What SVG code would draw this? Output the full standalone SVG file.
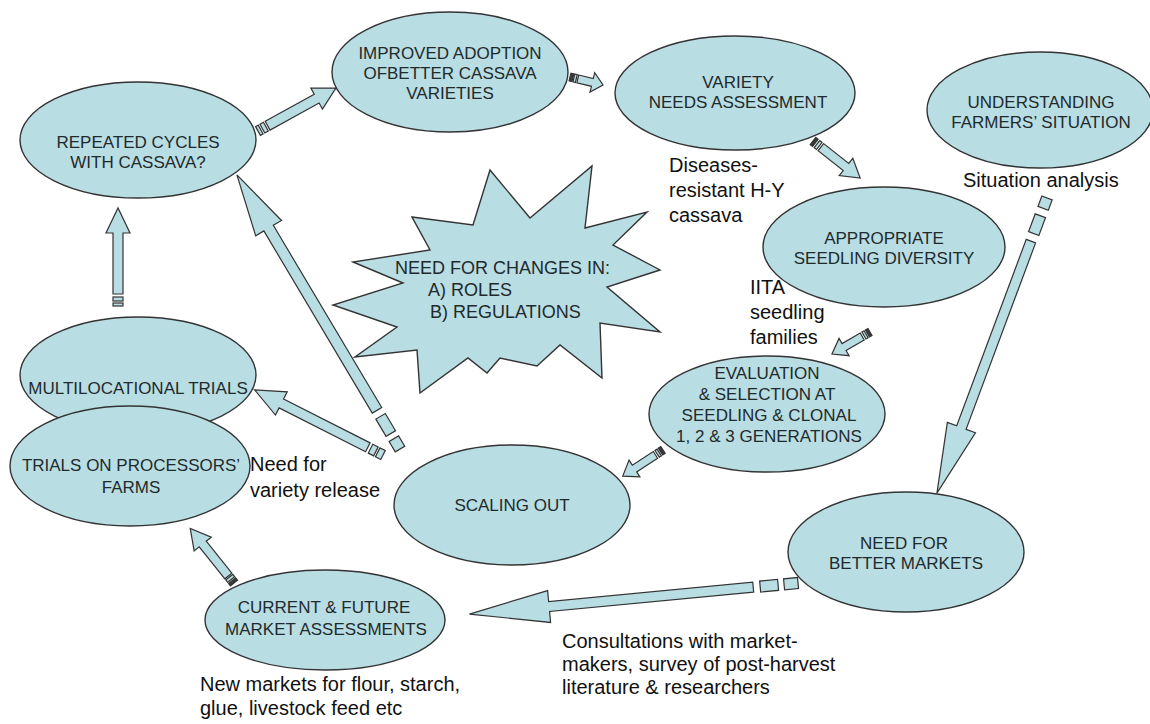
<svg xmlns="http://www.w3.org/2000/svg" width="1150" height="724" viewBox="0 0 1150 724">
  <style>
    .node { fill: #b8dde3; stroke: #333; stroke-width: 1.4; }
    .lbl { font-family: "Liberation Sans", Arial, sans-serif; font-size: 17px; fill: #1f2a2c; text-anchor: middle; }
    .star { font-family: "Liberation Sans", Arial, sans-serif; font-size: 18px; fill: #1f2a2c; }
    .note { font-family: "Liberation Sans", Arial, sans-serif; font-size: 20px; fill: #111; }
    .arrow path, .arrow rect { fill: #b8dde3; stroke: #333; stroke-width: 1.2; stroke-linejoin: miter; }
    .arrow rect.dark { fill: #3a3a3a; }
  </style>
  <rect width="1150" height="724" fill="#ffffff"/>

  <!-- nodes -->
  <g id="repeated-cycles">
    <ellipse class="node" cx="138" cy="140" rx="118" ry="58"/>
    <text class="lbl" x="138" y="148">REPEATED CYCLES</text>
    <text class="lbl" x="138" y="168">WITH CASSAVA?</text>
  </g>
  <g id="improved-adoption">
    <ellipse class="node" cx="450" cy="72" rx="118" ry="60"/>
    <text class="lbl" x="450" y="59">IMPROVED ADOPTION</text>
    <text class="lbl" x="450" y="79">OFBETTER CASSAVA</text>
    <text class="lbl" x="450" y="99">VARIETIES</text>
  </g>
  <g id="variety-needs">
    <ellipse class="node" cx="735" cy="93" rx="120" ry="57"/>
    <text class="lbl" x="738" y="88">VARIETY</text>
    <text class="lbl" x="738" y="108">NEEDS ASSESSMENT</text>
  </g>
  <g id="understanding-farmers">
    <ellipse class="node" cx="1040" cy="110" rx="113" ry="58"/>
    <text class="lbl" x="1041" y="108">UNDERSTANDING</text>
    <text class="lbl" x="1041" y="128">FARMERS’ SITUATION</text>
  </g>
  <g id="seedling-diversity">
    <ellipse class="node" cx="884" cy="247" rx="121" ry="60"/>
    <text class="lbl" x="884" y="244">APPROPRIATE</text>
    <text class="lbl" x="884" y="264">SEEDLING DIVERSITY</text>
  </g>
  <g id="evaluation">
    <ellipse class="node" cx="767" cy="414" rx="118" ry="58"/>
    <text class="lbl" x="767" y="379">EVALUATION</text>
    <text class="lbl" x="767" y="400">&amp; SELECTION AT</text>
    <text class="lbl" x="769" y="421">SEEDLING &amp; CLONAL</text>
    <text class="lbl" x="769" y="442">1, 2 &amp; 3 GENERATIONS</text>
  </g>
  <g id="scaling-out">
    <ellipse class="node" cx="512" cy="505" rx="118" ry="60"/>
    <text class="lbl" x="512" y="511">SCALING OUT</text>
  </g>
  <g id="multilocational">
    <ellipse class="node" cx="138" cy="375" rx="118" ry="58"/>
    <text class="lbl" x="138" y="394">MULTILOCATIONAL TRIALS</text>
  </g>
  <g id="processor-trials">
    <ellipse class="node" cx="130" cy="466" rx="120" ry="60"/>
    <text class="lbl" x="131" y="471">TRIALS ON PROCESSORS’</text>
    <text class="lbl" x="131" y="493">FARMS</text>
  </g>
  <g id="market-assessments">
    <ellipse class="node" cx="325" cy="620" rx="120" ry="50"/>
    <text class="lbl" x="324" y="613">CURRENT &amp; FUTURE</text>
    <text class="lbl" x="326" y="635">MARKET ASSESSMENTS</text>
  </g>
  <g id="better-markets">
    <ellipse class="node" cx="906" cy="552" rx="118" ry="60"/>
    <text class="lbl" x="904" y="549">NEED FOR</text>
    <text class="lbl" x="906" y="569">BETTER MARKETS</text>
  </g>
  <g id="changes-needed">
    <polygon class="node" points="412,217 473,225 490,170 530,218 592,166 585,228 647,212 613,245 660,270 607,287 660,332 600,323 602,378 560,345 537,366 500,358 487,373 468,358 420,393 417,350 355,357 397,327 333,305 403,283 353,262 430,250"/>
    <text class="star" x="395" y="274">NEED FOR CHANGES IN:</text>
    <text class="star" x="428" y="296">A)  ROLES</text>
    <text class="star" x="430" y="318">B) REGULATIONS</text>
  </g>

  <!-- free annotations -->
  <g id="notes">
    <text class="note" x="669" y="172">Diseases-</text>
    <text class="note" x="669" y="197">resistant H-Y</text>
    <text class="note" x="669" y="222">cassava</text>
    <text class="note" x="963" y="187">Situation analysis</text>
    <text class="note" x="750" y="294">IITA</text>
    <text class="note" x="750" y="319">seedling</text>
    <text class="note" x="750" y="344">families</text>
    <text class="note" x="250" y="471">Need for</text>
    <text class="note" x="250" y="497">variety release</text>
    <text class="note" x="562" y="648">Consultations with market-</text>
    <text class="note" x="562" y="671">makers, survey of post-harvest</text>
    <text class="note" x="562" y="694">literature &amp; researchers</text>
    <text class="note" x="200" y="691">New markets for flour, starch,</text>
    <text class="note" x="200" y="715">glue, livestock feed etc</text>
  </g>

  <!-- striped block arrows: local frame, tail at 0, tip at +x -->
  <g id="connectors">
    <g class="arrow" transform="translate(258 131) rotate(-28.9)">
      <rect x="0" y="-5" width="3" height="10"/><rect x="5" y="-5" width="4" height="10"/>
      <path d="M11,-5 H67 V-12 L89,0 L67,12 V5 H11 Z"/>
    </g>
    <g class="arrow" transform="translate(570 77) rotate(13.6)">
      <rect class="dark" x="0" y="-4" width="3" height="8"/><rect x="4" y="-4" width="2.5" height="8"/>
      <path d="M8,-4 H23 V-10 L34,0 L23,10 V4 H8 Z"/>
    </g>
    <g class="arrow" transform="translate(813 141) rotate(38.2)">
      <rect class="dark" x="0" y="-4.5" width="3" height="9"/><rect x="5" y="-4.5" width="3" height="9"/>
      <path d="M10,-4.5 H42 V-11 L60,0 L42,11 V4.5 H10 Z"/>
    </g>
    <g class="arrow" transform="translate(870 332) rotate(149.9)">
      <rect class="dark" x="0" y="-4" width="3" height="8"/><rect x="4.5" y="-4" width="2.5" height="8"/>
      <path d="M9,-4 H30 V-10 L44,0 L30,10 V4 H9 Z"/>
    </g>
    <g class="arrow" transform="translate(663 450) rotate(147)">
      <rect class="dark" x="0" y="-4" width="3" height="8"/><rect x="4.5" y="-4" width="2.5" height="8"/>
      <path d="M9,-4 H34 V-10 L48,0 L34,10 V4 H9 Z"/>
    </g>
    <g class="arrow" transform="translate(1047 198) rotate(110.45)">
      <rect x="0" y="-5.5" width="11" height="11"/><rect x="19" y="-5.5" width="19" height="11"/>
      <path d="M46,-5 H245 V-15 L315,0 L245,15 V5 H46 Z"/>
    </g>
    <g class="arrow" transform="translate(798 583) rotate(174.6)">
      <rect x="0" y="-5.5" width="14" height="11"/><rect x="20" y="-5.5" width="18" height="11"/>
      <path d="M45,-5 H250 V-16 L330,0 L250,16 V5 H45 Z"/>
    </g>
    <g class="arrow" transform="translate(234 583) rotate(-128.7)">
      <rect class="dark" x="0" y="-4.5" width="3" height="9"/><rect x="4.5" y="-4.5" width="3" height="9"/>
      <path d="M9,-4.5 H50 V-11 L70,0 L50,11 V4.5 H9 Z"/>
    </g>
    <g class="arrow" transform="translate(383 455) rotate(-153.1)">
      <rect x="0" y="-5" width="6" height="10"/><rect x="8" y="-5" width="6" height="10"/>
      <path d="M17,-5 H114 V-13 L144,0 L114,13 V5 H17 Z"/>
    </g>
    <g class="arrow" transform="translate(400 449) rotate(-120.75)">
      <rect x="0" y="-5.5" width="12" height="11"/><rect x="18" y="-5.5" width="20" height="11"/>
      <path d="M45,-5.5 H257 V-15 L319,0 L257,15 V5.5 H45 Z"/>
    </g>
    <g class="arrow" transform="translate(118 306) rotate(-90)">
      <rect x="0" y="-5" width="3" height="10"/><rect x="5" y="-5" width="4" height="10"/>
      <path d="M12,-5 H73 V-12 L98,0 L73,12 V5 H12 Z"/>
    </g>
  </g>
</svg>
